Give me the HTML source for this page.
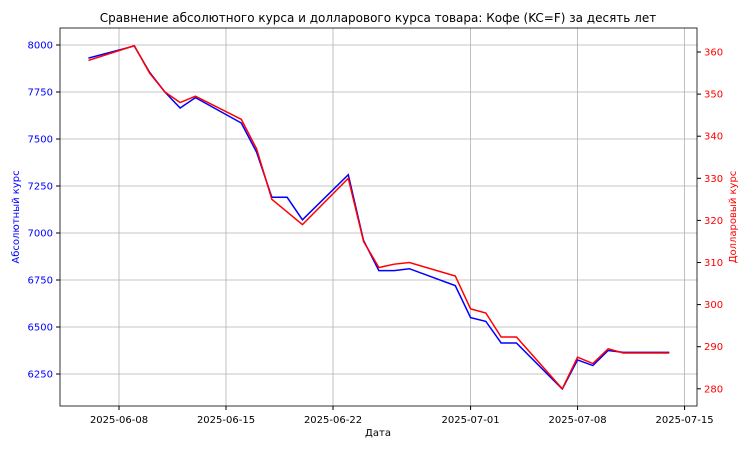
<!DOCTYPE html>
<html><head><meta charset="utf-8"><style>
body{margin:0;background:#fff;font-family:"Liberation Sans","DejaVu Sans",sans-serif;}
svg text{font-family:"DejaVu Sans","Liberation Sans",sans-serif;}
</style></head><body>
<svg id="chart" width="750" height="450" xmlns="http://www.w3.org/2000/svg"></svg>
<script>
const dates=["2025-06-06","2025-06-09","2025-06-10","2025-06-11","2025-06-12","2025-06-13","2025-06-16","2025-06-17","2025-06-18","2025-06-19","2025-06-20","2025-06-23","2025-06-24","2025-06-25","2025-06-26","2025-06-27","2025-06-30","2025-07-01","2025-07-02","2025-07-03","2025-07-04","2025-07-07","2025-07-08","2025-07-09","2025-07-10","2025-07-11","2025-07-14"];
const absValues=[7930,7995,7855,7750,7665,7720,7585,7430,7190,7190,7070,7310,6960,6800,6800,6810,6720,6550,6530,6415,6415,6170,6325,6295,6375,6365,6365];
const usdValues=[358,361.5,355,350.5,348,349.5,344,337,325,322,319,330,315,308.8,309.6,310,306.8,299,298,292.3,292.3,280,287.5,286,289.5,288.5,288.5];
const xTicks=["2025-06-08","2025-06-15","2025-06-22","2025-07-01","2025-07-08","2025-07-15"];
const leftTicks=[6250,6500,6750,7000,7250,7500,7750,8000];
const rightTicks=[280,290,300,310,320,330,340,350,360];

const svg=document.getElementById('chart');
const NS="http://www.w3.org/2000/svg";
const L=60,R=697,T=28,B=406;
const day=t=>Date.parse(t+"T00:00:00Z")/86400000;
const x0=day("2025-06-08");
const X=t=>119+(day(t)-x0)*(107/7);
const YL=v=>45+(8000-v)*47/250;
const YR=v=>52+(360-v)*4.21;
function el(tag,attrs,parent){const e=document.createElementNS(NS,tag);for(const k in attrs)e.setAttribute(k,attrs[k]);(parent||svg).appendChild(e);return e;}

const grid=el('g',{});


xTicks.forEach(t=>{const x=X(t);el('line',{x1:x,x2:x,y1:T,y2:B,stroke:'#b0b0b0','stroke-width':0.8},grid);});
leftTicks.forEach(v=>{const y=YL(v);el('line',{x1:L,x2:R,y1:y,y2:y,stroke:'#b0b0b0','stroke-width':0.8},grid);});

const xa=el('g',{});


xTicks.forEach(t=>{const x=X(t);el('line',{x1:x,x2:x,y1:B,y2:B+4,stroke:'#000'},xa);const tx=el('text',{x:x,y:B+17,'font-size':10,'text-anchor':'middle'},xa);tx.textContent=t;});
const la=el('g',{});


leftTicks.forEach(v=>{const y=YL(v);el('line',{x1:L,x2:L-4,y1:y,y2:y,stroke:'#000'},la);const tx=el('text',{x:L-7,y:y+3.5,'font-size':10,'text-anchor':'end',fill:'blue'},la);tx.textContent=v;});
const ra=el('g',{});


rightTicks.forEach(v=>{const y=YR(v);el('line',{x1:R,x2:R+4,y1:y,y2:y,stroke:'#000'},ra);const tx=el('text',{x:R+7,y:y+3.5,'font-size':10,fill:'red'},ra);tx.textContent=v;});

const pb=el('polyline',{points:dates.map((d,i)=>X(d)+','+YL(absValues[i])).join(' '),fill:'none',stroke:'blue','stroke-width':1.5});


const pr=el('polyline',{points:dates.map((d,i)=>X(d)+','+YR(usdValues[i])).join(' '),fill:'none',stroke:'red','stroke-width':1.5});



const fr=el('rect',{x:L,y:T,width:R-L,height:B-T,fill:'none',stroke:'#000','stroke-width':0.8});



const title=el('text',{x:378,y:22,'font-size':12,'text-anchor':'middle'});


title.textContent='Сравнение абсолютного курса и долларового курса товара: Кофе (KC=F) за десять лет';
const xt=el('text',{x:378,y:436,'font-size':10,'text-anchor':'middle'});


xt.textContent='Дата';
const ylt=el('text',{x:0,y:0,'font-size':10,'text-anchor':'middle',fill:'blue',transform:'translate(19,217) rotate(-90)'});


ylt.textContent='Абсолютный курс';
const yrt=el('text',{x:0,y:0,'font-size':10,'text-anchor':'middle',fill:'red',transform:'translate(736,217) rotate(-90)'});


yrt.textContent='Долларовый курс';
</script>
</body></html>
